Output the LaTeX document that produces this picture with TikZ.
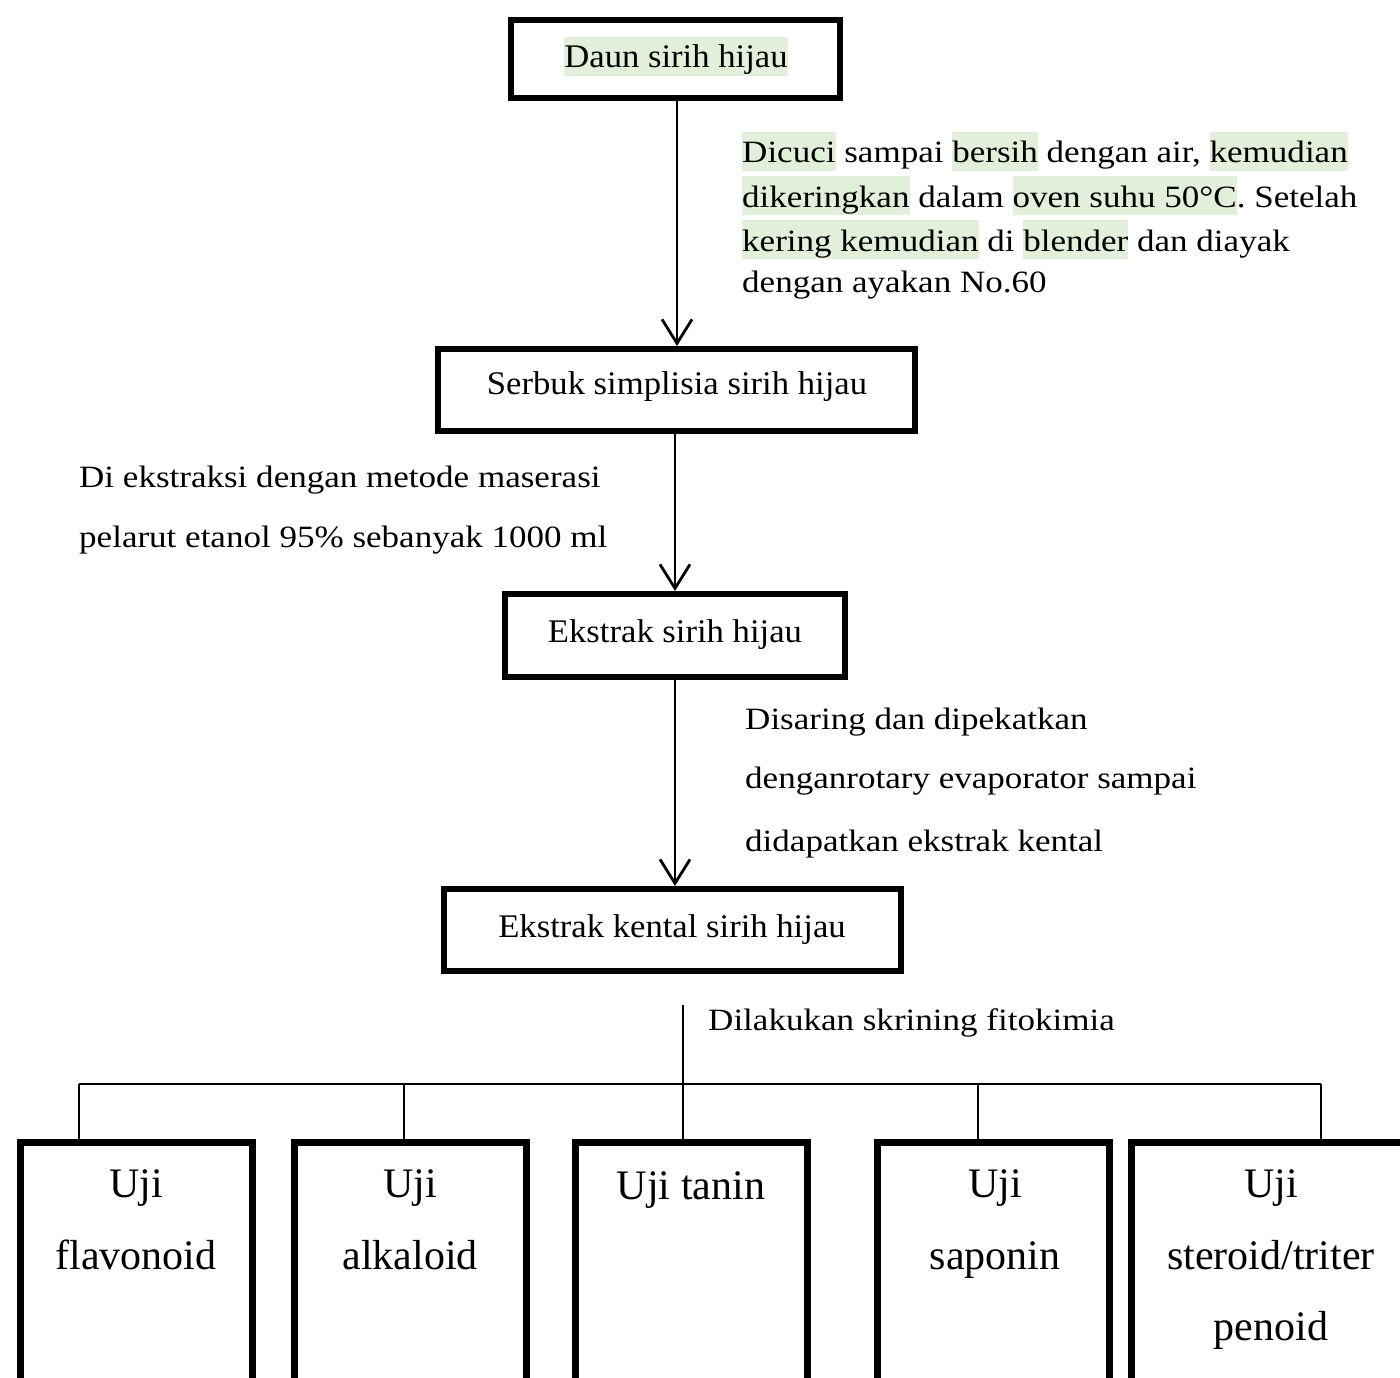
\documentclass[tikz,border=0pt]{standalone}
\usepackage{fontspec}
\setmainfont{Liberation Serif}
\newfontfamily\annotfont[FakeStretch=1.13]{Liberation Serif}
\newfontfamily\boxfont[FakeStretch=1.05]{Liberation Serif}
\usetikzlibrary{arrows.meta}
\definecolor{hlgreen}{HTML}{E2EFDA}
\newcommand\hlt[1]{{\setlength{\fboxsep}{0pt}\colorbox{hlgreen}{\rule[-8pt]{0pt}{39pt}#1}}}
\frenchspacing
\tikzset{
  topbox/.style={draw, line width=6pt, inner sep=0pt},
  testbox/.style={draw, line width=7pt, inner sep=0pt, minimum height=253pt},
  boxtext/.style={anchor=base, inner sep=0pt, font=\boxfont\fontsize{33}{40}\selectfont},
  annot/.style={anchor=base west, inner sep=0pt, font=\annotfont\fontsize{31}{40}\selectfont},
  testtext/.style={anchor=base, inner sep=0pt, font=\fontsize{42}{50}\selectfont},
  flow/.style={line width=2.5pt, -{Straight Barb[length=24pt,width=30pt,line width=2.8pt]}},
  tree/.style={line width=2.2pt},
}
\begin{document}
\begin{tikzpicture}[x=1pt,y=-1pt]
\useasboundingbox (0,0) rectangle (1400,1378);
\clip (0,0) rectangle (1400,1378);

% main boxes
\node[topbox, minimum width=329pt, minimum height=78pt] (b1) at (675.5,59) {};
\node[topbox, minimum width=477pt, minimum height=82pt] (b2) at (676.5,390) {};
\node[topbox, minimum width=340pt, minimum height=83pt] (b3) at (675,635.5) {};
\node[topbox, minimum width=457pt, minimum height=82pt] (b4) at (672.5,930) {};

\node[boxtext] (t1) at (676,68) {\hlt{Daun sirih hijau}};
\node[boxtext] (t2) at (677,394) {Serbuk simplisia sirih hijau};
\node[boxtext] (t3) at (675,642) {Ekstrak sirih hijau};
\node[boxtext] (t4) at (672,937) {Ekstrak kental sirih hijau};

% arrows
\draw[flow] ([xshift=1.5pt]b1.south) -- ([xshift=1.5pt]b1.south |- b2.north);
\draw[flow] (b3.north |- b2.south) -- (b3.north);
\draw[flow] (b3.south) -- (b3.south |- b4.north);

% annotations
\node[annot] (a11) at (742,163) {\hlt{Dicuci} sampai \hlt{bersih} dengan air, \hlt{kemudian}};
\node[annot] (a12) at (742,207) {\hlt{dikeringkan} dalam \hlt{oven suhu 50°C}. Setelah};
\node[annot] (a13) at (742,251) {\hlt{kering kemudian} di \hlt{blender} dan diayak};
\node[annot] (a14) at (742,292) {dengan ayakan No.60};

\node[annot] (a21) at (79,487) {Di ekstraksi dengan metode maserasi};
\node[annot] (a22) at (79,547) {pelarut etanol 95\% sebanyak 1000 ml};

\node[annot] (a31) at (745,729) {Disaring dan dipekatkan};
\node[annot] (a32) at (745,788) {denganrotary evaporator sampai};
\node[annot] (a33) at (745,851) {didapatkan ekstrak kental};

\node[annot] (a41) at (708,1030) {Dilakukan skrining fitokimia};

% test boxes
\node[testbox, minimum width=232pt] (u1) at (136,1268.5) {};
\node[testbox, minimum width=232pt] (u2) at (410,1268.5) {};
\node[testbox, minimum width=232pt] (u3) at (691,1268.5) {};
\node[testbox, minimum width=232pt] (u4) at (993,1268.5) {};
\node[testbox, minimum width=280pt] (u5) at (1271,1268.5) {};

\node[testtext] (u1a) at (136,1197) {Uji};
\node[testtext] (u1b) at (136,1269) {flavonoid};
\node[testtext] (u2a) at (410,1197) {Uji};
\node[testtext] (u2b) at (410,1269) {alkaloid};
\node[testtext] (u3a) at (691,1199) {Uji tanin};
\node[testtext] (u4a) at (995,1197) {Uji};
\node[testtext] (u4b) at (995,1269) {saponin};
\node[testtext] (u5a) at (1271,1197) {Uji};
\node[testtext] (u5b) at (1271,1269) {steroid/triter};
\node[testtext] (u5c) at (1271,1340) {penoid};

% tree connectors
\coordinate (s0) at (683,1005);
\coordinate (h1) at (79,1084);
\coordinate (h2) at (404,1084);
\coordinate (h3) at (683,1084);
\coordinate (h4) at (978,1084);
\coordinate (h5) at (1321,1084);
\draw[tree] (s0) -- (s0 |- u3.north);
\draw[tree] (h1) -- (h5);
\draw[tree] (h1) -- (h1 |- u1.north);
\draw[tree] (h2) -- (h2 |- u2.north);
\draw[tree] (h4) -- (h4 |- u4.north);
\draw[tree] (h5) -- (h5 |- u5.north);
\end{tikzpicture}
\end{document}
